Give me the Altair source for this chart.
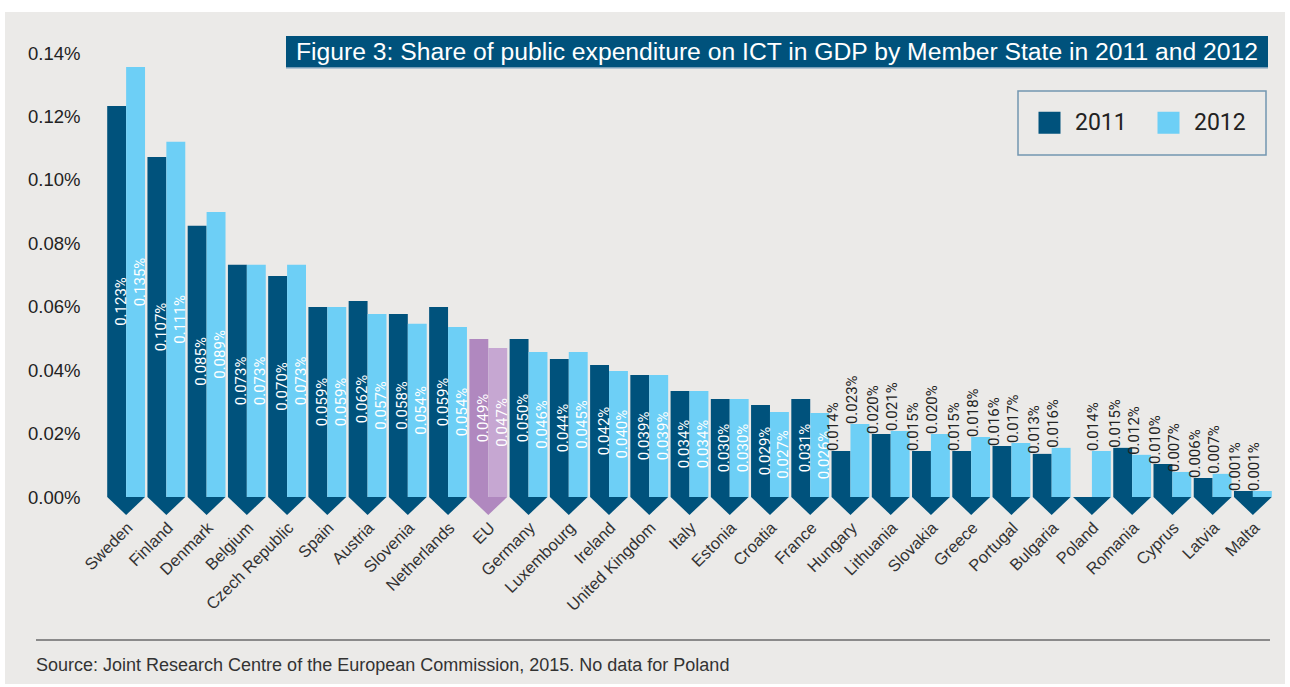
import altair as alt
import pandas as pd

countries = ["Sweden", "Finland", "Denmark", "Belgium", "Czech Republic", "Spain", "Austria",
             "Slovenia", "Netherlands", "EU", "Germany", "Luxembourg", "Ireland", "United Kingdom",
             "Italy", "Estonia", "Croatia", "France", "Hungary", "Lithuania", "Slovakia", "Greece",
             "Portugal", "Bulgaria", "Poland", "Romania", "Cyprus", "Latvia", "Malta"]

# bar heights (% of GDP)
v2011 = [0.1233, 0.1072, 0.0855, 0.0732, 0.0697, 0.0599, 0.0618, 0.0577, 0.0599, 0.0498,
         0.0498, 0.0435, 0.0416, 0.0385, 0.0334, 0.0309, 0.0290, 0.0309, 0.0145, 0.0199,
         0.0145, 0.0145, 0.0161, 0.0136, 0.0, 0.0155, 0.0104, 0.0060, 0.0019]
v2012 = [0.1356, 0.1120, 0.0899, 0.0732, 0.0732, 0.0599, 0.0577, 0.0546, 0.0536, 0.0470,
         0.0457, 0.0457, 0.0397, 0.0385, 0.0334, 0.0309, 0.0268, 0.0265, 0.0230, 0.0208,
         0.0199, 0.0189, 0.0170, 0.0155, 0.0145, 0.0133, 0.0079, 0.0073, 0.0019]

# printed value labels
l2011 = ["0.123%", "0.107%", "0.085%", "0.073%", "0.070%", "0.059%", "0.062%", "0.058%", "0.059%",
         "0.049%", "0.050%", "0.044%", "0.042%", "0.039%", "0.034%", "0.030%", "0.029%", "0.031%",
         "0.014%", "0.020%", "0.015%", "0.015%", "0.016%", "0.013%", "", "0.015%", "0.010%",
         "0.006%", "0.001%"]
l2012 = ["0.135%", "0.111%", "0.089%", "0.073%", "0.073%", "0.059%", "0.057%", "0.054%", "0.054%",
         "0.047%", "0.046%", "0.045%", "0.040%", "0.039%", "0.034%", "0.030%", "0.027%", "0.026%",
         "0.023%", "0.021%", "0.020%", "0.018%", "0.017%", "0.016%", "0.014%", "0.012%", "0.007%",
         "0.007%", "0.001%"]

years = ["2011", "2012"]
y_ticks = [0.0, 0.02, 0.04, 0.06, 0.08, 0.10, 0.12, 0.14]
first_outside_label = "Hungary"   # from here on, value labels sit above the bars

title_text = "Figure 3: Share of public expenditure on ICT in GDP by Member State in 2011 and 2012"
source_text = "Source: Joint Research Centre of the European Commission, 2015. No data for Poland"

DARK = "#00527c"
LIGHT = "#6dcff6"
EU1 = "#b088bf"
EU2 = "#c6a7d2"
BG = "#ebeae8"
FONT = "Liberation Sans, Arial, Helvetica, sans-serif"

cut = countries.index(first_outside_label)
rows = []
for i, c in enumerate(countries):
    for yr, vals, labs in ((years[0], v2011, l2011), (years[1], v2012, l2012)):
        rows.append({
            "country": c, "year": yr, "value": vals[i], "label": labs[i],
            "key": ("EU " + yr) if c == "EU" else yr,
            "inside": i < cut,
        })
df = pd.DataFrame(rows)
arrows = pd.DataFrame({"country": countries, "zero": [0.0] * len(countries)})
one = pd.DataFrame({"k": [0]})

xenc = alt.X("country:N", sort=countries,
             scale=alt.Scale(paddingInner=0.06, paddingOuter=0.03),
             axis=alt.Axis(title=None, labelAngle=315, labelAlign="right", labelBaseline="middle",
                           labelPadding=28, labelOffset=4, labelFontSize=16.5,
                           labelFont=FONT, labelColor="#333333", labelFontWeight="normal",
                           ticks=False, domain=False, zindex=2))
xoff = alt.XOffset("year:N", sort=years, scale=alt.Scale(paddingInner=0, paddingOuter=0))
yscale = alt.Scale(domain=[0, 0.14], nice=False, zero=True)
yenc = alt.Y("value:Q", scale=yscale,
             axis=alt.Axis(title=None, values=y_ticks, labelExpr="format(datum.value, '.2f') + '%'",
                           labelFontSize=18.5, labelFont=FONT, labelColor="#222222",
                           labelPadding=26, ticks=False, domain=False, grid=False, zindex=2))

panel = alt.Chart(one).mark_rect(color=BG).encode(
    x=alt.value(-101), x2=alt.value(1179), y=alt.value(-41), y2=alt.value(631))

base = alt.Chart(df)

bars = base.mark_bar().encode(
    x=xenc, xOffset=xoff, y=yenc,
    color=alt.Color("key:N",
                    scale=alt.Scale(domain=["2011", "2012", "EU 2011", "EU 2012"],
                                    range=[DARK, LIGHT, EU1, EU2]),
                    legend=alt.Legend(values=["2011", "2012"], orient="none", legendX=912, legendY=38,
                                      direction="horizontal", title=None, symbolType="square",
                                      symbolSize=484, symbolStrokeWidth=0, labelFontSize=23,
                                      labelFont="Roboto", labelColor="#222222", labelOffset=14,
                                      columnPadding=30, padding=20, fillColor=BG,
                                      strokeColor="#7396b0")),
)

arrow_shape = "M-1,0L1,0L0,0.95Z"
arrow_marks = alt.Chart(arrows).mark_point(filled=True, shape=arrow_shape, size=1429, opacity=1,
                                           strokeWidth=0).encode(
    x=alt.X("country:N", sort=countries),
    y=alt.Y("zero:Q", scale=yscale),
    fill=alt.condition("datum.country == 'EU'", alt.value(EU1), alt.value(DARK)),
)

lab_in = base.transform_filter("datum.inside").transform_calculate(
    mid="datum.value / 2").mark_text(
    angle=270, align="center", baseline="middle", dy=4, font="Roboto", fontSize=15,
    fontWeight="normal", color="white"
).encode(x=alt.X("country:N", sort=countries), xOffset=xoff,
         y=alt.Y("mid:Q", scale=yscale), text="label:N")

lab_out = base.transform_filter("!datum.inside").mark_text(
    angle=270, align="left", baseline="middle", dy=-8, font="Roboto", fontSize=15,
    fontWeight="normal", color="#222222"
).encode(x=alt.X("country:N", sort=countries), xOffset=xoff,
         y=alt.Y("value:Q", scale=yscale), text="label:N")

title_bg = alt.Chart(one).mark_rect(color=DARK).encode(
    x=alt.value(180), x2=alt.value(1162), y=alt.value(-17), y2=alt.value(15))
title_line = alt.Chart(one).mark_rule(color="#9fb9cc", strokeWidth=1.5).encode(
    x=alt.value(180), x2=alt.value(1162), y=alt.value(15))
title = alt.Chart(one).mark_text(
    text=title_text, align="left", baseline="middle", font=FONT, fontSize=24.7,
    fontWeight="normal", color="white").encode(x=alt.value(190), y=alt.value(0))

src_rule = alt.Chart(one).mark_rule(color="#8a8a8a", strokeWidth=2).encode(
    x=alt.value(-70), x2=alt.value(1164), y=alt.value(587))
src = alt.Chart(one).mark_text(
    text=source_text, align="left", baseline="middle", font=FONT, fontSize=18,
    fontWeight="normal", color="#333333").encode(x=alt.value(-70), y=alt.value(613))

chart = alt.layer(panel, bars, arrow_marks, lab_in, lab_out, title_bg, title_line, title,
                  src_rule, src).properties(
    width=1167, height=444,
    padding={"left": 106, "top": 53, "right": 17, "bottom": 190},
    autosize=alt.AutoSizeParams(type="none"),
).configure(background="white").configure_view(stroke=None).configure_legend(strokeWidth=1.5)

chart.save("out.html", embed_options={"renderer": "svg", "actions": False})
